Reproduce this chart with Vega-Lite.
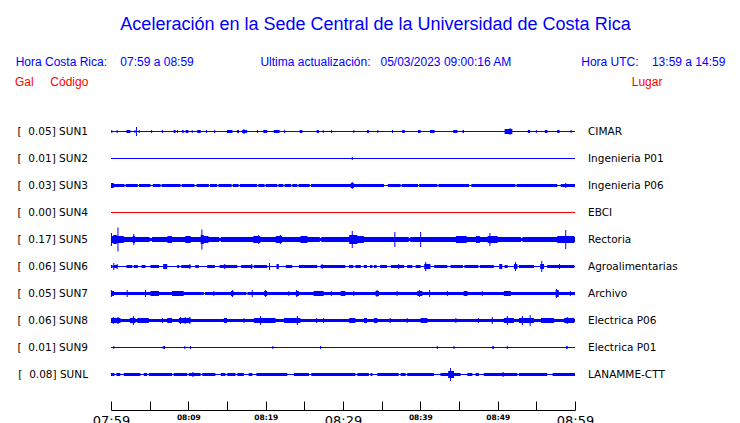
{
  "$schema": "https://vega.github.io/schema/vega-lite/v6.json",
  "background": "white",
  "padding": {"left": 14, "top": 16, "right": 0, "bottom": 0},
  "title": {
    "text": "Aceleración en la Sede Central de la Universidad de Costa Rica",
    "subtitle": "Hora Costa Rica:\u00a0\u00a0\u00a0\u00a007:59 a 08:59\u00a0\u00a0\u00a0\u00a0\u00a0\u00a0\u00a0\u00a0\u00a0\u00a0\u00a0\u00a0\u00a0\u00a0\u00a0\u00a0\u00a0\u00a0\u00a0\u00a0Ultima actualización:\u00a0\u00a0\u00a005/03/2023 09:00:16 AM\u00a0\u00a0\u00a0\u00a0\u00a0\u00a0\u00a0\u00a0\u00a0\u00a0\u00a0\u00a0\u00a0\u00a0\u00a0\u00a0\u00a0\u00a0\u00a0\u00a0\u00a0Hora UTC:\u00a0\u00a0\u00a0\u00a013:59 a 14:59\u00a0\u00a0\u00a0\u200b",
    "anchor": "start",
    "align": "center",
    "frame": "group",
    "dx": 264.5,
    "font": "Liberation Sans",
    "fontSize": 18,
    "fontWeight": "normal",
    "color": "#0000ff",
    "subtitleFont": "Liberation Sans",
    "subtitleFontSize": 12,
    "subtitleColor": "#0000ff",
    "subtitlePadding": 23,
    "offset": 7
  },
  "datasets": {
    "stations": [
      {"s": "SUN1", "gal": 0.05, "lugar": "CIMAR"},
      {"s": "SUN2", "gal": 0.01, "lugar": "Ingenieria P01"},
      {"s": "SUN3", "gal": 0.03, "lugar": "Ingenieria P06"},
      {"s": "SUN4", "gal": 0.00, "lugar": "EBCI"},
      {"s": "SUN5", "gal": 0.17, "lugar": "Rectoria"},
      {"s": "SUN6", "gal": 0.06, "lugar": "Agroalimentarias"},
      {"s": "SUN7", "gal": 0.05, "lugar": "Archivo"},
      {"s": "SUN8", "gal": 0.06, "lugar": "Electrica P06"},
      {"s": "SUN9", "gal": 0.01, "lugar": "Electrica P01"},
      {"s": "SUNL", "gal": 0.08, "lugar": "LANAMME-CTT"}
    ],
    "traces": [
      {"s":"SUN1","m":0,"a":0},{"s":"SUN1","m":2.0,"a":1.5},{"s":"SUN1","m":2.5,"a":0},{"s":"SUN1","m":8.1,"a":1.5},{"s":"SUN1","m":8.35,"a":0},{"s":"SUN1","m":9.2,"a":1.5},{"s":"SUN1","m":9.4,"a":0},{"s":"SUN1","m":9.65,"a":1.5},{"s":"SUN1","m":10.0,"a":0},{"s":"SUN1","m":11.15,"a":1.5},{"s":"SUN1","m":11.6,"a":0},{"s":"SUN1","m":15.0,"a":1.5},{"s":"SUN1","m":15.7,"a":0},{"s":"SUN1","m":16.3,"a":1.5},{"s":"SUN1","m":16.55,"a":0},{"s":"SUN1","m":16.95,"a":1.5},{"s":"SUN1","m":17.6,"a":0},{"s":"SUN1","m":19.7,"a":1.5},{"s":"SUN1","m":20.2,"a":0},{"s":"SUN1","m":21.05,"a":1.5},{"s":"SUN1","m":21.8,"a":0},{"s":"SUN1","m":24.4,"a":1.5},{"s":"SUN1","m":24.75,"a":0},{"s":"SUN1","m":26.6,"a":1.5},{"s":"SUN1","m":26.9,"a":0},{"s":"SUN1","m":33.1,"a":1.5},{"s":"SUN1","m":33.35,"a":0},{"s":"SUN1","m":37.65,"a":1.5},{"s":"SUN1","m":38.0,"a":0},{"s":"SUN1","m":39.7,"a":1.5},{"s":"SUN1","m":40.05,"a":0},{"s":"SUN1","m":41.25,"a":1.5},{"s":"SUN1","m":41.85,"a":0},{"s":"SUN1","m":44.25,"a":1.5},{"s":"SUN1","m":44.8,"a":0},{"s":"SUN1","m":45.45,"a":1.5},{"s":"SUN1","m":45.65,"a":0},{"s":"SUN1","m":50.9,"a":2.5},{"s":"SUN1","m":51.9,"a":0},{"s":"SUN1","m":53.9,"a":1.5},{"s":"SUN1","m":54.2,"a":0},{"s":"SUN1","m":56.1,"a":1.5},{"s":"SUN1","m":56.45,"a":0},{"s":"SUN1","m":57.7,"a":1.5},{"s":"SUN1","m":58.0,"a":0},{"s":"SUN1","m":60,"a":0},
      {"s":"SUN1","m":0.1,"p":1.5},{"s":"SUN1","m":0.8,"p":1.5},{"s":"SUN1","m":3.1,"p":1.5},{"s":"SUN1","m":3.3,"p":4.5},{"s":"SUN1","m":3.65,"p":1.5},{"s":"SUN1","m":5.25,"p":1.5},{"s":"SUN1","m":6.65,"p":1.5},{"s":"SUN1","m":8.6,"p":1.5},{"s":"SUN1","m":10.5,"p":1.5},{"s":"SUN1","m":12.35,"p":1.5},{"s":"SUN1","m":13.4,"p":1.5},{"s":"SUN1","m":17.2,"p":2.5},{"s":"SUN1","m":18.95,"p":1.5},{"s":"SUN1","m":22.45,"p":1.5},{"s":"SUN1","m":27.45,"p":1.5},{"s":"SUN1","m":28.5,"p":1.5},{"s":"SUN1","m":31.4,"p":1.5},{"s":"SUN1","m":34.5,"p":1.5},{"s":"SUN1","m":36.4,"p":1.5},{"s":"SUN1","m":51.6,"p":3.5},{"s":"SUN1","m":55.0,"p":1.5},{"s":"SUN1","m":59.5,"p":1.5},

      {"s":"SUN2","m":0,"a":0},{"s":"SUN2","m":60,"a":0},{"s":"SUN2","m":31.2,"p":1.5},

      {"s":"SUN3","m":0,"a":2.5},{"s":"SUN3","m":0.35,"a":1.5},{"s":"SUN3","m":1.75,"a":0},{"s":"SUN3","m":1.9,"a":1.5},{"s":"SUN3","m":3.47,"a":0},{"s":"SUN3","m":3.62,"a":1.5},{"s":"SUN3","m":5.1,"a":0},{"s":"SUN3","m":5.4,"a":1.5},{"s":"SUN3","m":6.4,"a":0},{"s":"SUN3","m":6.55,"a":1.5},{"s":"SUN3","m":9.0,"a":0},{"s":"SUN3","m":9.15,"a":1.5},{"s":"SUN3","m":10.8,"a":0},{"s":"SUN3","m":11.06,"a":1.5},{"s":"SUN3","m":12.65,"a":0},{"s":"SUN3","m":12.8,"a":1.5},{"s":"SUN3","m":13.74,"a":0},{"s":"SUN3","m":13.9,"a":1.5},{"s":"SUN3","m":15.6,"a":0},{"s":"SUN3","m":15.75,"a":1.5},{"s":"SUN3","m":16.5,"a":0},{"s":"SUN3","m":16.65,"a":1.5},{"s":"SUN3","m":18.9,"a":0},{"s":"SUN3","m":19.05,"a":1.5},{"s":"SUN3","m":19.86,"a":0},{"s":"SUN3","m":20.0,"a":1.5},{"s":"SUN3","m":21.5,"a":0},{"s":"SUN3","m":21.65,"a":1.5},{"s":"SUN3","m":22.3,"a":0},{"s":"SUN3","m":22.45,"a":1.5},{"s":"SUN3","m":23.3,"a":0},{"s":"SUN3","m":23.45,"a":1.5},{"s":"SUN3","m":24.1,"a":0},{"s":"SUN3","m":24.25,"a":1.5},{"s":"SUN3","m":25.7,"a":0},{"s":"SUN3","m":25.85,"a":1.5},{"s":"SUN3","m":31.0,"a":2.5},{"s":"SUN3","m":31.4,"a":1.5},{"s":"SUN3","m":35.3,"a":0},{"s":"SUN3","m":35.8,"a":1.5},{"s":"SUN3","m":37.45,"a":0},{"s":"SUN3","m":37.6,"a":1.5},{"s":"SUN3","m":39.7,"a":0},{"s":"SUN3","m":39.85,"a":1.5},{"s":"SUN3","m":42.2,"a":0},{"s":"SUN3","m":42.35,"a":1.5},{"s":"SUN3","m":46.3,"a":0},{"s":"SUN3","m":46.6,"a":1.5},{"s":"SUN3","m":52.3,"a":0},{"s":"SUN3","m":52.45,"a":1.5},{"s":"SUN3","m":57.7,"a":0},{"s":"SUN3","m":58.15,"a":1.5},{"s":"SUN3","m":60,"a":1.5},
      {"s":"SUN3","m":0.23,"p":2.5},{"s":"SUN3","m":31.2,"p":3.5},{"s":"SUN3","m":58.8,"p":2.5},

      {"s":"SUN4","m":0,"a":0},{"s":"SUN4","m":60,"a":0},

      {"s":"SUN5","m":0,"a":3.5},{"s":"SUN5","m":0.3,"a":4.5},{"s":"SUN5","m":0.75,"a":3.5},{"s":"SUN5","m":1.65,"a":2.5},{"s":"SUN5","m":2.8,"a":3.5},{"s":"SUN5","m":3.1,"a":2.5},{"s":"SUN5","m":5.0,"a":1.5},{"s":"SUN5","m":5.3,"a":2.5},{"s":"SUN5","m":7.3,"a":3.5},{"s":"SUN5","m":7.9,"a":2.5},{"s":"SUN5","m":9.6,"a":3.5},{"s":"SUN5","m":10.3,"a":2.5},{"s":"SUN5","m":11.6,"a":4.5},{"s":"SUN5","m":12.0,"a":3.5},{"s":"SUN5","m":12.6,"a":2.5},{"s":"SUN5","m":14.0,"a":1.5},{"s":"SUN5","m":14.2,"a":2.5},{"s":"SUN5","m":18.4,"a":3.5},{"s":"SUN5","m":19.3,"a":2.5},{"s":"SUN5","m":21.3,"a":3.5},{"s":"SUN5","m":22.1,"a":2.5},{"s":"SUN5","m":24.5,"a":3.5},{"s":"SUN5","m":25.4,"a":2.5},{"s":"SUN5","m":27.0,"a":1.5},{"s":"SUN5","m":27.2,"a":2.5},{"s":"SUN5","m":30.8,"a":4.5},{"s":"SUN5","m":31.85,"a":3.5},{"s":"SUN5","m":32.7,"a":2.5},{"s":"SUN5","m":38.5,"a":1.5},{"s":"SUN5","m":38.7,"a":2.5},{"s":"SUN5","m":44.6,"a":3.5},{"s":"SUN5","m":46.0,"a":2.5},{"s":"SUN5","m":47.2,"a":3.5},{"s":"SUN5","m":47.7,"a":2.5},{"s":"SUN5","m":48.7,"a":3.5},{"s":"SUN5","m":50.0,"a":2.5},{"s":"SUN5","m":53.0,"a":1.5},{"s":"SUN5","m":53.2,"a":2.5},{"s":"SUN5","m":57.7,"a":3.5},{"s":"SUN5","m":59.9,"a":2.5},{"s":"SUN5","m":60,"a":2.5},
      {"s":"SUN5","m":0.06,"p":6.5},{"s":"SUN5","m":0.9,"p":12},{"s":"SUN5","m":2.95,"p":5.5},{"s":"SUN5","m":11.75,"p":10},{"s":"SUN5","m":19.1,"p":4.5},{"s":"SUN5","m":21.9,"p":4.5},{"s":"SUN5","m":31.2,"p":8.5},{"s":"SUN5","m":36.7,"p":7.5},{"s":"SUN5","m":40.04,"p":7.5},{"s":"SUN5","m":49.0,"p":6.5},{"s":"SUN5","m":58.8,"p":9.5},

      {"s":"SUN6","m":0,"a":1.5},{"s":"SUN6","m":0.2,"a":0},{"s":"SUN6","m":0.36,"a":1.5},{"s":"SUN6","m":0.8,"a":0},{"s":"SUN6","m":2.0,"a":1.5},{"s":"SUN6","m":2.74,"a":0},{"s":"SUN6","m":2.95,"a":1.5},{"s":"SUN6","m":3.47,"a":0},{"s":"SUN6","m":3.95,"a":1.5},{"s":"SUN6","m":4.46,"a":0},{"s":"SUN6","m":5.1,"a":1.5},{"s":"SUN6","m":6.2,"a":0},{"s":"SUN6","m":6.75,"a":2.5},{"s":"SUN6","m":7.27,"a":0},{"s":"SUN6","m":8.56,"a":1.5},{"s":"SUN6","m":8.82,"a":0},{"s":"SUN6","m":9.08,"a":1.5},{"s":"SUN6","m":10.28,"a":0},{"s":"SUN6","m":10.9,"a":1.5},{"s":"SUN6","m":11.36,"a":0},{"s":"SUN6","m":12.44,"a":1.5},{"s":"SUN6","m":13.43,"a":0},{"s":"SUN6","m":14.04,"a":1.5},{"s":"SUN6","m":16.33,"a":0},{"s":"SUN6","m":16.84,"a":1.5},{"s":"SUN6","m":18.27,"a":0},{"s":"SUN6","m":18.47,"a":1.5},{"s":"SUN6","m":20.2,"a":0},{"s":"SUN6","m":21.4,"a":2.5},{"s":"SUN6","m":21.7,"a":0},{"s":"SUN6","m":22.6,"a":1.5},{"s":"SUN6","m":23.44,"a":0},{"s":"SUN6","m":24.3,"a":1.5},{"s":"SUN6","m":26.67,"a":0},{"s":"SUN6","m":27.1,"a":1.5},{"s":"SUN6","m":30.3,"a":0},{"s":"SUN6","m":30.76,"a":1.5},{"s":"SUN6","m":31.33,"a":0},{"s":"SUN6","m":31.6,"a":1.5},{"s":"SUN6","m":32.3,"a":0},{"s":"SUN6","m":32.7,"a":1.5},{"s":"SUN6","m":33.1,"a":0},{"s":"SUN6","m":33.5,"a":1.5},{"s":"SUN6","m":33.8,"a":0},{"s":"SUN6","m":34.0,"a":1.5},{"s":"SUN6","m":34.35,"a":0},{"s":"SUN6","m":34.8,"a":1.5},{"s":"SUN6","m":35.7,"a":0},{"s":"SUN6","m":36.2,"a":1.5},{"s":"SUN6","m":37.9,"a":0},{"s":"SUN6","m":38.3,"a":1.5},{"s":"SUN6","m":38.96,"a":0},{"s":"SUN6","m":39.4,"a":1.5},{"s":"SUN6","m":40.04,"a":0},{"s":"SUN6","m":40.5,"a":2.5},{"s":"SUN6","m":41.3,"a":0},{"s":"SUN6","m":41.8,"a":1.5},{"s":"SUN6","m":43.5,"a":0},{"s":"SUN6","m":43.9,"a":1.5},{"s":"SUN6","m":45.5,"a":0},{"s":"SUN6","m":45.7,"a":1.5},{"s":"SUN6","m":47.5,"a":0},{"s":"SUN6","m":47.7,"a":1.5},{"s":"SUN6","m":49.5,"a":0},{"s":"SUN6","m":50.2,"a":2.5},{"s":"SUN6","m":50.6,"a":0},{"s":"SUN6","m":50.9,"a":1.5},{"s":"SUN6","m":51.3,"a":0},{"s":"SUN6","m":52.1,"a":2.5},{"s":"SUN6","m":52.55,"a":0},{"s":"SUN6","m":52.75,"a":1.5},{"s":"SUN6","m":54.7,"a":0},{"s":"SUN6","m":55.5,"a":2.5},{"s":"SUN6","m":56.0,"a":0},{"s":"SUN6","m":56.4,"a":1.5},{"s":"SUN6","m":59.9,"a":0},{"s":"SUN6","m":60,"a":0},
      {"s":"SUN6","m":0.36,"p":3.5},{"s":"SUN6","m":0.8,"p":2.5},{"s":"SUN6","m":7.1,"p":2.5},{"s":"SUN6","m":10.2,"p":2.5},{"s":"SUN6","m":14.7,"p":2.5},{"s":"SUN6","m":18.2,"p":2.5},{"s":"SUN6","m":20.5,"p":3.5},{"s":"SUN6","m":27.3,"p":2.5},{"s":"SUN6","m":37.2,"p":2.5},{"s":"SUN6","m":40.7,"p":4.5},{"s":"SUN6","m":52.3,"p":4.5},{"s":"SUN6","m":55.7,"p":5.5},{"s":"SUN6","m":58.0,"p":2.5},

      {"s":"SUN7","m":0,"a":2.5},{"s":"SUN7","m":0.4,"a":1.5},{"s":"SUN7","m":5.1,"a":2.5},{"s":"SUN7","m":6.2,"a":1.5},{"s":"SUN7","m":7.9,"a":2.5},{"s":"SUN7","m":9.4,"a":1.5},{"s":"SUN7","m":12.0,"a":0},{"s":"SUN7","m":12.15,"a":1.5},{"s":"SUN7","m":15.5,"a":2.5},{"s":"SUN7","m":15.85,"a":1.5},{"s":"SUN7","m":17.5,"a":0},{"s":"SUN7","m":17.65,"a":1.5},{"s":"SUN7","m":19.8,"a":2.5},{"s":"SUN7","m":20.2,"a":1.5},{"s":"SUN7","m":23.9,"a":2.5},{"s":"SUN7","m":24.3,"a":1.5},{"s":"SUN7","m":26.2,"a":2.5},{"s":"SUN7","m":27.5,"a":1.5},{"s":"SUN7","m":29.7,"a":2.5},{"s":"SUN7","m":30.3,"a":1.5},{"s":"SUN7","m":34.2,"a":2.5},{"s":"SUN7","m":34.65,"a":1.5},{"s":"SUN7","m":39.6,"a":2.5},{"s":"SUN7","m":40.26,"a":1.5},{"s":"SUN7","m":45.6,"a":2.5},{"s":"SUN7","m":46.1,"a":1.5},{"s":"SUN7","m":50.8,"a":2.5},{"s":"SUN7","m":51.7,"a":1.5},{"s":"SUN7","m":57.5,"a":3.5},{"s":"SUN7","m":57.9,"a":1.5},{"s":"SUN7","m":60,"a":1.5},
      {"s":"SUN7","m":0.05,"p":3.5},{"s":"SUN7","m":2.1,"p":3.5},{"s":"SUN7","m":4.46,"p":3.5},{"s":"SUN7","m":13.3,"p":2.5},{"s":"SUN7","m":15.7,"p":3.5},{"s":"SUN7","m":18.27,"p":3.5},{"s":"SUN7","m":20.0,"p":3.5},{"s":"SUN7","m":23.0,"p":2.5},{"s":"SUN7","m":24.0,"p":3.5},{"s":"SUN7","m":28.5,"p":2.5},{"s":"SUN7","m":31.4,"p":2.5},{"s":"SUN7","m":34.4,"p":3.5},{"s":"SUN7","m":37.0,"p":2.5},{"s":"SUN7","m":39.9,"p":3.5},{"s":"SUN7","m":41.2,"p":3.5},{"s":"SUN7","m":43.5,"p":2.5},{"s":"SUN7","m":48.0,"p":2.5},{"s":"SUN7","m":57.6,"p":4.5},{"s":"SUN7","m":59.4,"p":2.5},

      {"s":"SUN8","m":0,"a":2.5},{"s":"SUN8","m":1.23,"a":1.5},{"s":"SUN8","m":2.43,"a":2.5},{"s":"SUN8","m":3.17,"a":1.5},{"s":"SUN8","m":3.4,"a":2.5},{"s":"SUN8","m":4.9,"a":1.5},{"s":"SUN8","m":7.27,"a":2.5},{"s":"SUN8","m":7.9,"a":1.5},{"s":"SUN8","m":8.77,"a":2.5},{"s":"SUN8","m":10.28,"a":1.5},{"s":"SUN8","m":14.6,"a":2.5},{"s":"SUN8","m":15.0,"a":1.5},{"s":"SUN8","m":18.47,"a":2.5},{"s":"SUN8","m":21.28,"a":1.5},{"s":"SUN8","m":22.36,"a":2.5},{"s":"SUN8","m":24.5,"a":1.5},{"s":"SUN8","m":30.8,"a":2.5},{"s":"SUN8","m":31.6,"a":1.5},{"s":"SUN8","m":32.7,"a":2.5},{"s":"SUN8","m":33.1,"a":1.5},{"s":"SUN8","m":34.0,"a":2.5},{"s":"SUN8","m":34.44,"a":1.5},{"s":"SUN8","m":40.04,"a":2.5},{"s":"SUN8","m":40.9,"a":1.5},{"s":"SUN8","m":50.8,"a":2.5},{"s":"SUN8","m":52.1,"a":1.5},{"s":"SUN8","m":52.75,"a":2.5},{"s":"SUN8","m":54.7,"a":1.5},{"s":"SUN8","m":55.6,"a":2.5},{"s":"SUN8","m":57.3,"a":1.5},{"s":"SUN8","m":58.6,"a":2.5},{"s":"SUN8","m":59.9,"a":1.5},{"s":"SUN8","m":60,"a":1.5},
      {"s":"SUN8","m":0.3,"p":3.5},{"s":"SUN8","m":0.9,"p":3.5},{"s":"SUN8","m":2.9,"p":4.5},{"s":"SUN8","m":6.65,"p":2.5},{"s":"SUN8","m":9.0,"p":3.5},{"s":"SUN8","m":9.6,"p":3.5},{"s":"SUN8","m":10.2,"p":3.5},{"s":"SUN8","m":17.2,"p":2.5},{"s":"SUN8","m":19.34,"p":4.5},{"s":"SUN8","m":24.1,"p":4.5},{"s":"SUN8","m":26.6,"p":2.5},{"s":"SUN8","m":27.5,"p":2.5},{"s":"SUN8","m":36.1,"p":2.5},{"s":"SUN8","m":38.3,"p":2.5},{"s":"SUN8","m":44.6,"p":2.5},{"s":"SUN8","m":47.5,"p":2.5},{"s":"SUN8","m":49.3,"p":3.5},{"s":"SUN8","m":51.25,"p":4.5},{"s":"SUN8","m":53.2,"p":4.5},{"s":"SUN8","m":54.2,"p":5.5},{"s":"SUN8","m":59.0,"p":3.5},

      {"s":"SUN9","m":0,"a":0},{"s":"SUN9","m":49.3,"a":1.5},{"s":"SUN9","m":49.5,"a":0},{"s":"SUN9","m":58.85,"a":1.5},{"s":"SUN9","m":59.05,"a":0},{"s":"SUN9","m":60,"a":0},
      {"s":"SUN9","m":0.36,"p":1.5},{"s":"SUN9","m":6.75,"p":1.5},{"s":"SUN9","m":6.92,"p":1.5},{"s":"SUN9","m":9.55,"p":1.5},{"s":"SUN9","m":10.28,"p":1.5},{"s":"SUN9","m":20.93,"p":1.5},{"s":"SUN9","m":27.1,"p":1.5},{"s":"SUN9","m":42.2,"p":1.5},{"s":"SUN9","m":44.35,"p":1.5},{"s":"SUN9","m":51.25,"p":1.5},

      {"s":"SUNL","m":0,"a":1.5},{"s":"SUNL","m":0.45,"a":0},{"s":"SUNL","m":0.7,"a":1.5},{"s":"SUNL","m":1.2,"a":0},{"s":"SUNL","m":1.65,"a":1.5},{"s":"SUNL","m":3.8,"a":0},{"s":"SUNL","m":4.24,"a":1.5},{"s":"SUNL","m":4.68,"a":0},{"s":"SUNL","m":4.9,"a":1.5},{"s":"SUNL","m":7.9,"a":0},{"s":"SUNL","m":8.1,"a":1.5},{"s":"SUNL","m":9.86,"a":0},{"s":"SUNL","m":10.06,"a":1.5},{"s":"SUNL","m":11.58,"a":0},{"s":"SUNL","m":11.8,"a":1.5},{"s":"SUNL","m":13.5,"a":0},{"s":"SUNL","m":14.2,"a":1.5},{"s":"SUNL","m":14.8,"a":0},{"s":"SUNL","m":15.03,"a":1.5},{"s":"SUNL","m":16.1,"a":0},{"s":"SUNL","m":16.33,"a":1.5},{"s":"SUNL","m":17.18,"a":0},{"s":"SUNL","m":17.8,"a":1.5},{"s":"SUNL","m":18.27,"a":0},{"s":"SUNL","m":18.8,"a":1.5},{"s":"SUNL","m":22.8,"a":0},{"s":"SUNL","m":23.65,"a":1.5},{"s":"SUNL","m":25.6,"a":0},{"s":"SUNL","m":25.9,"a":1.5},{"s":"SUNL","m":31.6,"a":0},{"s":"SUNL","m":31.85,"a":1.5},{"s":"SUNL","m":33.35,"a":0},{"s":"SUNL","m":33.57,"a":1.5},{"s":"SUNL","m":33.8,"a":0},{"s":"SUNL","m":34.44,"a":1.5},{"s":"SUNL","m":37.2,"a":0},{"s":"SUNL","m":37.45,"a":1.5},{"s":"SUNL","m":38.1,"a":0},{"s":"SUNL","m":38.3,"a":1.5},{"s":"SUNL","m":41.76,"a":0},{"s":"SUNL","m":42.6,"a":1.5},{"s":"SUNL","m":43.6,"a":3.5},{"s":"SUNL","m":44.35,"a":1.5},{"s":"SUNL","m":45.2,"a":0},{"s":"SUNL","m":46.08,"a":1.5},{"s":"SUNL","m":46.73,"a":0},{"s":"SUNL","m":47.15,"a":1.5},{"s":"SUNL","m":47.58,"a":0},{"s":"SUNL","m":48.2,"a":1.5},{"s":"SUNL","m":52.55,"a":0},{"s":"SUNL","m":52.75,"a":1.5},{"s":"SUNL","m":56.4,"a":0},{"s":"SUNL","m":57.1,"a":1.5},{"s":"SUNL","m":60,"a":0},
      {"s":"SUNL","m":10.6,"p":2.5},{"s":"SUNL","m":43.9,"p":6.5},{"s":"SUNL","m":50.7,"p":2.5}
    ]
  },
  "data": {"name": "traces"},
  "transform": [
    {"lookup": "s", "from": {"data": {"name": "stations"}, "key": "s", "fields": ["gal", "lugar"]}},
    {"calculate": "'[\u00a0\u00a0' + format(datum.gal, '.2f') + '] ' + datum.s", "as": "label"}
  ],
  "facet": {"row": {"field": "s", "type": "nominal", "header": {"labels": false, "title": null}}},
  "spacing": 0,
  "spec": {
    "width": 464,
    "height": 27,
    "layer": [
      {
        "transform": [{"filter": "isValid(datum.a)"}],
        "mark": {"type": "area", "interpolate": "step-after"},
        "encoding": {
          "x": {"field": "m", "type": "quantitative", "scale": {"domain": [0, 60], "nice": false, "zero": false},
            "axis": {"orient": "bottom", "values": [0, 5, 10, 15, 20, 25, 30, 35, 40, 45, 50, 55, 60],
              "labelExpr": "datum.value % 10 == 0 ? timeFormat(datetime(2023, 4, 3, 7, 59 + datum.value), '%H:%M') : ''",
              "title": null, "grid": false, "domainColor": "#000000", "domainWidth": 1, "tickColor": "#000000", "tickWidth": 1,
              "tickSize": -9, "offset": 22, "labelFont": "DejaVu Sans", "labelColor": "#000000",
              "labelFontSize": {"condition": {"test": "datum.value % 30 == 0", "value": 13}, "value": 7.5},
              "labelFontWeight": {"condition": {"test": "datum.value % 30 == 0", "value": "normal"}, "value": "bold"},
              "labelPadding": {"condition": {"test": "datum.value % 30 == 0", "value": 13}, "value": 12},
              "labelBaseline": "top", "labelFlush": false, "labelOverlap": false, "labelBound": false}},
          "y": {"field": "a", "type": "quantitative", "stack": null, "scale": {"domain": [-13.5, 13.5]}, "axis": null},
          "y2": {"datum": 0},
          "color": {"field": "s", "type": "nominal", "legend": null,
            "scale": {"domain": ["SUN1","SUN2","SUN3","SUN4","SUN5","SUN6","SUN7","SUN8","SUN9","SUNL"],
              "range": ["#0000ff","#0000ff","#0000ff","#ff0000","#0000ff","#0000ff","#0000ff","#0000ff","#0000ff","#0000ff"]}}
        }
      },
      {
        "transform": [{"filter": "isValid(datum.a)"}],
        "mark": {"type": "area", "interpolate": "step-after"},
        "encoding": {
          "x": {"field": "m", "type": "quantitative",
            "axis": {"orient": "top", "domain": false, "ticks": false, "labels": false, "grid": false,
              "title": "Gal\u00a0\u00a0\u00a0\u00a0\u00a0Código\u2003\u2003\u2003\u2003\u2003\u2003\u2003\u2003\u2003\u2003\u2003\u2003\u2003\u2003\u2003\u2003\u2003\u2003\u2003\u2003\u2003\u2003\u2003\u2003\u2003\u2003\u2003\u2003\u2003\u2003\u2003\u2003\u2003\u2003\u2003\u2003\u2003\u2003\u2003\u2003\u2003\u2003\u2003\u2003\u2003\u00a0Lugar",
              "titleColor": "#ff0000", "titleFont": "Liberation Sans", "titleFontSize": 12, "titleFontWeight": "normal",
              "titleAnchor": "start", "titleAlign": "left", "titleBaseline": "alphabetic", "titleX": -96.5, "titleY": -33, "titlePadding": 0}},
          "y": {"field": "a", "type": "quantitative", "stack": null, "scale": {"domain": [-13.5, 13.5], "reverse": true}, "axis": null},
          "y2": {"datum": 0},
          "color": {"field": "s", "type": "nominal", "legend": null}
        }
      },
      {
        "transform": [{"filter": "isValid(datum.p)"}],
        "mark": {"type": "rule", "strokeWidth": 1},
        "encoding": {
          "x": {"field": "m", "type": "quantitative", "axis": null},
          "y": {"field": "p", "type": "quantitative", "scale": {"domain": [-13.5, 13.5]}, "axis": null},
          "y2": {"datum": 0},
          "color": {"field": "s", "type": "nominal", "legend": null}
        }
      },
      {
        "transform": [{"filter": "isValid(datum.p)"}],
        "mark": {"type": "rule", "strokeWidth": 1},
        "encoding": {
          "x": {"field": "m", "type": "quantitative", "axis": null},
          "y": {"field": "p", "type": "quantitative", "scale": {"domain": [-13.5, 13.5], "reverse": true}, "axis": null},
          "y2": {"datum": 0},
          "color": {"field": "s", "type": "nominal", "legend": null}
        }
      },
      {
        "mark": {"type": "rule", "strokeWidth": 1},
        "encoding": {
          "x": {"aggregate": "min", "field": "m", "type": "quantitative", "axis": null},
          "x2": {"aggregate": "max", "field": "m"},
          "y": {"datum": 0, "type": "quantitative", "scale": {"domain": [-13.5, 13.5]}, "axis": null},
          "color": {"field": "s", "type": "nominal", "legend": null}
        }
      },
      {
        "mark": {"type": "text", "align": "right", "baseline": "middle", "dx": -23, "font": "DejaVu Sans", "fontSize": 10.5, "color": "#000000"},
        "encoding": {
          "x": {"aggregate": "min", "field": "m", "type": "quantitative", "axis": null},
          "text": {"field": "label", "type": "nominal"}
        }
      },
      {
        "mark": {"type": "text", "align": "left", "baseline": "middle", "dx": 13, "font": "DejaVu Sans", "fontSize": 10.5, "color": "#000000"},
        "encoding": {
          "x": {"aggregate": "max", "field": "m", "type": "quantitative", "axis": null},
          "text": {"field": "lugar", "type": "nominal"}
        }
      }
    ],
    "resolve": {"scale": {"y": "independent"}, "axis": {"x": "independent"}}
  },
  "config": {"view": {"stroke": null}}
}
